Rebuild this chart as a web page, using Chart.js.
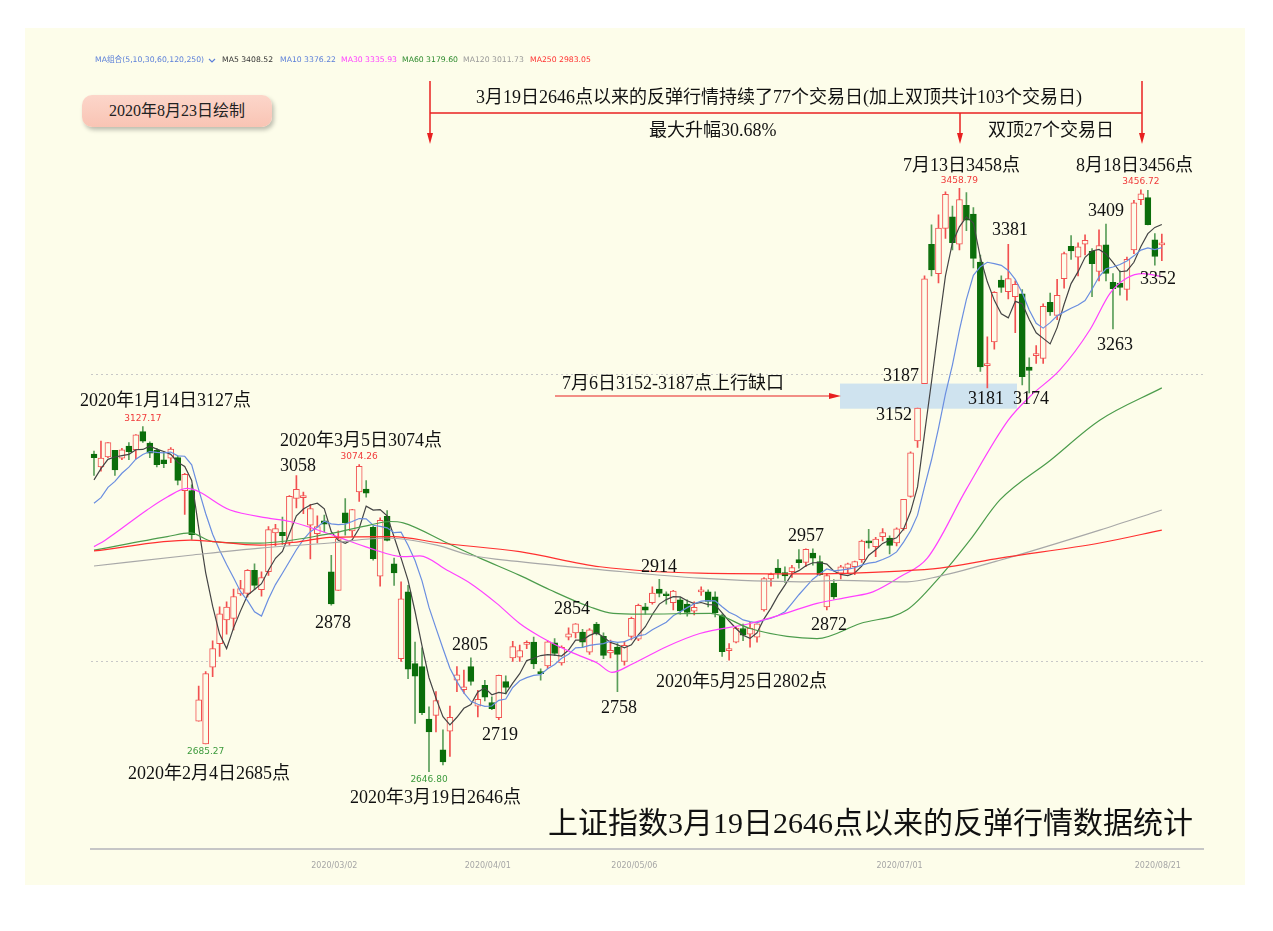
<!DOCTYPE html>
<html>
<head>
<meta charset="utf-8">
<script src="https://cdn.jsdelivr.net/npm/chart.js@4.4.1/dist/chart.umd.min.js"></script>
<style>
  html, body { margin: 0; padding: 0; background: #fff; }
  #panel { position: absolute; left: 25px; top: 28px; width: 1220px; height: 857px; background: #fdfdea; }
  #badge { position: absolute; left: 82px; top: 95px; width: 190px; height: 32px; border-radius: 10px;
           background: linear-gradient(#fcd6ca, #f9c4b4); box-shadow: 2px 3px 4px rgba(0,0,0,0.25);
           font: 16px "Liberation Serif", "Noto Sans CJK SC"; color: #222; text-align: center; line-height: 32px; }
  #wrap { position: absolute; left: 0; top: 0; width: 1273px; height: 931px; }
</style>
</head>
<body>
<div id="panel"></div>
<div id="badge">2020年8月23日绘制</div>
<div id="wrap"><canvas id="chart" width="1273" height="931"></canvas></div>
<script>
// 上证指数 日K 2020/01/03 - 2020/08/21
const dates = [
  '2020/01/03','2020/01/06','2020/01/07','2020/01/08','2020/01/09','2020/01/10','2020/01/13','2020/01/14','2020/01/15','2020/01/16','2020/01/17','2020/01/20','2020/01/21','2020/01/22','2020/01/23',
  '2020/02/03','2020/02/04','2020/02/05','2020/02/06','2020/02/07','2020/02/10','2020/02/11','2020/02/12','2020/02/13','2020/02/14','2020/02/17','2020/02/18','2020/02/19','2020/02/20','2020/02/21','2020/02/24','2020/02/25','2020/02/26','2020/02/27','2020/02/28',
  '2020/03/02','2020/03/03','2020/03/04','2020/03/05','2020/03/06','2020/03/09','2020/03/10','2020/03/11','2020/03/12','2020/03/13','2020/03/16','2020/03/17','2020/03/18','2020/03/19','2020/03/20','2020/03/23','2020/03/24','2020/03/25','2020/03/26','2020/03/27','2020/03/30','2020/03/31',
  '2020/04/01','2020/04/02','2020/04/03','2020/04/07','2020/04/08','2020/04/09','2020/04/10','2020/04/13','2020/04/14','2020/04/15','2020/04/16','2020/04/17','2020/04/20','2020/04/21','2020/04/22','2020/04/23','2020/04/24','2020/04/27','2020/04/28','2020/04/29','2020/04/30',
  '2020/05/06','2020/05/07','2020/05/08','2020/05/11','2020/05/12','2020/05/13','2020/05/14','2020/05/15','2020/05/18','2020/05/19','2020/05/20','2020/05/21','2020/05/22','2020/05/25','2020/05/26','2020/05/27','2020/05/28','2020/05/29',
  '2020/06/01','2020/06/02','2020/06/03','2020/06/04','2020/06/05','2020/06/08','2020/06/09','2020/06/10','2020/06/11','2020/06/12','2020/06/15','2020/06/16','2020/06/17','2020/06/18','2020/06/19','2020/06/22','2020/06/23','2020/06/24','2020/06/29','2020/06/30',
  '2020/07/01','2020/07/02','2020/07/03','2020/07/06','2020/07/07','2020/07/08','2020/07/09','2020/07/10','2020/07/13','2020/07/14','2020/07/15','2020/07/16','2020/07/17','2020/07/20','2020/07/21','2020/07/22','2020/07/23','2020/07/24','2020/07/27','2020/07/28','2020/07/29','2020/07/30','2020/07/31',
  '2020/08/03','2020/08/04','2020/08/05','2020/08/06','2020/08/07','2020/08/10','2020/08/11','2020/08/12','2020/08/13','2020/08/14','2020/08/17','2020/08/18','2020/08/19','2020/08/20','2020/08/21'
];

const open = [
  3089,3071,3085,3094,3083,3100,3095,3120,3104,3094,3081,3083,3084,3038,3038,
  2717,2685.27,2792,2825,2858,2860,2894,2895,2927,2900,2925,2979,2980,2966,3027,3028,2990,2978,2996,2925,
  2899,3007,2982,3036,3040,2987,2919,3002,2936,2804,2897,2797,2793,2720,2725,2677,2703,2774,2761,2793,2738,2767,
  2743,2722,2772,2805,2806,2824,2827,2786,2794,2826,2798,2834,2840,2841,2813,2852,2835,2812,2820,2800,2835,
  2831,2876,2882,2901,2894,2882,2886,2880,2870,2897,2897,2890,2864,2815,2827,2846,2838,2834,
  2872,2915,2930,2924,2925,2942,2938,2951,2939,2876,2909,2923,2930,2932,2942,2968,2960,2974,2972,2965,
  2985,3030,3107,3187,3381,3340,3403,3419,3381,3435,3423,3356,3212,3245,3331,3315,3308,3312,3210,3226,3222,3300,3282,
  3333,3378,3363,3381,3371,3343,3380,3328,3327,3318,3373,3443,3446,3387,3380
];
const high = [
  3093,3107,3105,3094,3097,3105,3116,3127.17,3106,3097,3092,3098,3086,3062,3046,
  2766,2786,2829,2876,2883,2901,2913,2928,2936,2925,2988,2991,3001,3031,3058.9,3036,3019,3003,3004,2948,
  2982,3027,3012,3074.26,3052,2989,3000,3010,2944,2911,2906,2827,2819,2737,2758,2705,2738,2793,2788,2805,2760,2774,
  2751,2781,2780,2828,2823,2829,2834,2790,2829,2832,2822,2847,2853,2845,2846,2854.5,2840,2830,2825,2828,2862,
  2880,2881,2904,2914.3,2897,2899,2889,2886,2883,2904,2900,2897,2866,2825,2848,2852,2855,2852,
  2917,2923,2942,2932,2934,2956,2957,2957,2947,2922,2914,2934,2937,2940,2969,2984,2973,2985,2975,2986,
  3026,3092,3153,3337,3408,3422,3454,3434,3458.79,3453,3432,3366,3252,3315,3337,3381,3330,3318,3223,3240,3298,3313,3332,
  3370,3393,3383,3394,3375,3401,3409,3340,3344,3363,3442,3456.72,3456,3396,3395
];
const low = [
  3059,3065,3084,3059,3081,3081,3082,3105,3084,3071,3070,3077,3046,3005,2970,
  2717,2685.27,2779,2807,2838,2844,2892,2890,2900,2891,2920,2961,2963,2962,3014,3006,2943,2965,2980,2878.5,
  2899,2976,2974,3023,3029,2941,2905,2968,2906,2800,2776,2714,2726,2646.8,2702,2656,2668,2758,2756,2767,2723,2745,
  2733,2719,2755,2800,2800,2818,2790,2774,2790,2808,2795,2830,2833,2820,2810,2837,2804,2805,2758,2795,2830,
  2829,2866,2880,2890,2880,2872,2866,2863,2865,2892,2876,2862,2807,2802,2826,2829,2820,2827,
  2870,2905,2916,2910,2917,2930,2932,2934,2920,2872,2887,2915,2922,2921,2938,2958,2946,2968,2950,2961,
  2983,3029,3098,3187,3337,3327,3389,3373,3373,3400,3348,3204,3181,3235,3314,3305,3258,3185,3174,3215,3215,3282,3276,
  3320,3360,3337,3366,3308,3330,3330,3263,3310,3303,3368,3436,3408,3352,3358
];
const close = [
  3083.79,3083.41,3104.80,3066.89,3094.88,3092.29,3115.57,3106.82,3090.04,3074.08,3075.50,3095.79,3052.14,3060.75,2976.53,
  2746.61,2783.29,2818.09,2866.51,2875.96,2890.49,2901.67,2926.90,2906.07,2917.01,2983.62,2984.97,2975.40,3030.15,3039.67,3031.23,3013.05,2987.93,2991.33,2880.30,
  2970.93,2992.90,3011.67,3071.68,3034.51,2943.29,2996.76,2968.52,2923.49,2887.43,2789.25,2779.64,2728.76,2702.13,2745.62,2660.17,2722.44,2781.59,2764.91,2772.20,2747.21,2750.30,
  2734.52,2780.64,2763.99,2820.76,2815.37,2825.90,2796.63,2783.05,2827.28,2811.17,2819.94,2838.49,2852.55,2827.01,2843.98,2838.50,2808.53,2815.49,2810.02,2822.44,2860.08,
  2878.14,2871.52,2895.34,2894.80,2891.56,2898.05,2870.34,2868.46,2875.42,2898.58,2883.74,2867.92,2813.77,2817.97,2846.55,2836.80,2846.22,2852.35,
  2915.43,2921.40,2923.37,2919.25,2930.80,2937.77,2956.11,2943.75,2920.90,2919.74,2890.03,2931.75,2935.87,2939.32,2967.63,2965.27,2970.62,2979.55,2961.52,2984.67,
  3025.98,3090.57,3152.81,3332.88,3345.34,3403.44,3450.59,3383.32,3443.29,3414.62,3361.30,3210.10,3214.13,3314.15,3320.90,3333.16,3325.11,3196.77,3205.23,3227.96,3294.55,3286.82,3310.01,
  3367.97,3371.69,3377.56,3386.46,3354.04,3379.25,3340.29,3319.27,3320.73,3360.10,3438.80,3451.09,3408.13,3363.90,3380.68
];
// 2019/12/20 - 2020/01/02 收盘, 用于前几天的MA5/MA10
const priorCloses = [3004.94, 2962.75, 2982.68, 2981.88, 3007.35, 3005.04, 3040.02, 3050.12, 3085.20];

// 长周期均线 (从图上读出: [序号, 数值])
const ma30Pts = [[0,2960],[1.6,2969],[7.6,3011],[10.5,3029],[13.3,3041],[19.5,3011],[24.8,3000],[28.1,2995],[34.5,2975],[39.5,2958],[44.3,2946],[46.7,2947],[50.6,2927],[53.9,2909],[57.7,2881],[61,2853],[63.9,2835],[68.6,2812],[72.1,2798],[74.2,2785],[77.2,2797],[82.1,2821],[86.8,2839],[94,2853],[98.7,2866],[103.6,2881],[108.3,2890],[111.6,2897],[115.5,2918],[119.4,2944],[125,3040],[131,3136],[134.1,3169],[138.4,3206],[142.7,3262],[145.6,3313],[148,3334],[150.3,3340],[153,3336]];
const ma60Pts = [[0,2955],[10.5,2974],[13.8,2979],[17,2967],[23.8,2965],[33.8,2978],[39.5,2990],[42.4,2995],[44.3,2993],[50.6,2965],[55.3,2944],[61,2920],[65.3,2900],[71.1,2876],[74.4,2867],[78.2,2866],[88.3,2867],[94,2846],[99.3,2835],[103.6,2832],[109.8,2853],[116.5,2872],[121.2,2918],[125.5,2969],[129.8,3025],[137,3080],[144.1,3136],[153,3181]];
const ma120Pts = [[0,2933],[13.8,2948],[23.8,2958],[33.8,2965],[42,2972],[49.1,2962],[53.9,2948],[61,2939],[72.5,2928],[86.8,2916],[101.2,2911],[106.9,2913],[116.5,2911],[121.2,2919],[129.8,2941],[144.1,2983],[153,3011]];
const ma250Pts = [[0,2954],[13.8,2969],[23.8,2962],[29.5,2967],[33.8,2973],[42.8,2974],[49.6,2965],[61,2953],[72.5,2932],[86.8,2923],[101.2,2922],[115.5,2926],[121.2,2930],[129.8,2944],[144.1,2965],[153,2983]];

const maNames = ['MA5', 'MA10', 'MA30', 'MA60', 'MA120', 'MA250'];
const maLatest = [3408.52, 3376.22, 3335.93, 3179.60, 3011.73, 2983.05];

const tickDates = ['2020/03/02', '2020/04/01', '2020/05/06', '2020/07/01', '2020/08/21'];
const gridValues = [2800, 3200];

const BG = '#fdfdea';
const UP = '#f25050';
const DOWN = '#0b6e0b';
const DOWN_WICK = '#5a9e5a';
const SERIF = '"Liberation Serif", "Noto Sans CJK SC"';

function movingAvg(n) {
  const all = priorCloses.concat(close);
  return close.map((c, i) => {
    const j = i + priorCloses.length;
    let s = 0;
    for (let k = j - n + 1; k <= j; k++) s += all[k];
    return s / n;
  });
}
const ma5 = movingAvg(5);
const ma10 = movingAvg(10);

const isUp = close.map((c, i) => c >= open[i]);
const tickIdx = tickDates.map(d => dates.indexOf(d));

function lineSet(pts, color, smooth) {
  return {
    type: 'line',
    data: pts,
    borderColor: color,
    borderWidth: 1.2,
    pointRadius: 0,
    cubicInterpolationMode: smooth ? 'monotone' : 'default',
    tension: 0,
    order: 0
  };
}

// 文字注释
const labels = [
  ['2020年1月14日3127点', 80, 401],
  ['2020年3月5日3074点', 280, 441],
  ['3058', 280, 466],
  ['2878', 315, 623],
  ['2020年2月4日2685点', 128, 774],
  ['2020年3月19日2646点', 350, 798],
  ['2805', 452, 645],
  ['2719', 482, 735],
  ['2854', 554, 609],
  ['2758', 601, 708],
  ['2914', 641, 567],
  ['2020年5月25日2802点', 656, 682],
  ['2957', 788, 536],
  ['2872', 811, 625],
  ['3187', 883, 376],
  ['3152', 876, 415],
  ['7月6日3152-3187点上行缺口', 562, 384],
  ['3181', 968, 399],
  ['3174', 1013, 399],
  ['3381', 992, 230],
  ['7月13日3458点', 903, 166],
  ['8月18日3456点', 1076, 166],
  ['3409', 1088, 211],
  ['3352', 1140, 279],
  ['3263', 1097, 345],
  ['3月19日2646点以来的反弹行情持续了77个交易日(加上双顶共计103个交易日)', 476, 98],
  ['最大升幅30.68%', 649, 131],
  ['双顶27个交易日', 988, 131]
];
// 高低点小标签 [文字, 序号, 数值, 颜色, 上/下]
const markLabels = [
  ['3127.17', 7, 3127.17, '#f03a3a', -1],
  ['3074.26', 38, 3074.26, '#f03a3a', -1],
  ['3458.79', 124, 3458.79, '#f03a3a', -1],
  ['3456.72', 150, 3456.72, '#f03a3a', -1],
  ['2685.27', 16, 2685.27, '#3c9a3c', 1],
  ['2646.80', 48, 2646.8, '#3c9a3c', 1]
];

function arrowDown(ctx, x, y1, y2) {
  ctx.beginPath(); ctx.moveTo(x, y1); ctx.lineTo(x, y2 - 8); ctx.stroke();
  ctx.beginPath(); ctx.moveTo(x, y2); ctx.lineTo(x - 3, y2 - 11); ctx.lineTo(x + 3, y2 - 11); ctx.closePath(); ctx.fill();
}

const gapBox = {
  id: 'gapBox',
  beforeDatasetsDraw(chart) {
    const { ctx, scales: { y } } = chart;
    const top = y.getPixelForValue(3187), bot = y.getPixelForValue(3152);
    ctx.save();
    ctx.fillStyle = '#cfe3ef';
    ctx.fillRect(840, top, 177, bot - top);
    ctx.restore();
  }
};

const notes = {
  id: 'notes',
  afterDraw(chart) {
    const { ctx, scales: { x, y } } = chart;
    ctx.save();
    // 均线图例
    ctx.textBaseline = 'middle';
    ctx.font = '7.7px "DejaVu Sans", "Noto Sans CJK SC"';
    ctx.fillStyle = '#5b7fd9';
    ctx.fillText('MA组合(5,10,30,60,120,250)', 95, 60);
    ctx.strokeStyle = '#5b7fd9'; ctx.lineWidth = 1.2;
    ctx.beginPath(); ctx.moveTo(209, 59); ctx.lineTo(212, 62); ctx.lineTo(215, 59); ctx.stroke();
    const maColors = ['#333333', '#5b7fd9', '#ff40ff', '#2e8b2e', '#999999', '#ff3030'];
    const legendX = [222, 280, 341, 402, 463, 530];
    maNames.forEach((n, k) => {
      ctx.fillStyle = maColors[k];
      ctx.fillText(n + ' ' + maLatest[k].toFixed(2), legendX[k], 60);
    });

    // 大字注释
    ctx.fillStyle = '#111';
    ctx.font = '18px ' + SERIF;
    labels.forEach(([t, lxx, ly]) => ctx.fillText(t, lxx, ly));
    ctx.font = '30px ' + SERIF;
    ctx.fillText('上证指数3月19日2646点以来的反弹行情数据统计', 548, 825);

    // 高低点数值
    ctx.font = '9px "DejaVu Sans"';
    ctx.textAlign = 'center';
    markLabels.forEach(([t, i, v, c, dir]) => {
      ctx.fillStyle = c;
      ctx.fillText(t, x.getPixelForValue(i), y.getPixelForValue(v) + dir * 8);
    });

    // 红色箭头
    ctx.strokeStyle = '#e82020'; ctx.fillStyle = '#e82020'; ctx.lineWidth = 1.5;
    ctx.beginPath(); ctx.moveTo(430, 113); ctx.lineTo(1142, 113); ctx.stroke();
    arrowDown(ctx, 430, 81, 144);
    arrowDown(ctx, 1142, 81, 144);
    arrowDown(ctx, 960, 113, 144);
    const gy = 396;
    ctx.lineWidth = 1.2;
    ctx.beginPath(); ctx.moveTo(555, gy); ctx.lineTo(832, gy); ctx.stroke();
    ctx.beginPath(); ctx.moveTo(841, gy); ctx.lineTo(829, gy - 3); ctx.lineTo(829, gy + 3); ctx.closePath(); ctx.fill();
    ctx.restore();
  }
};

const idx = close.map((c, i) => i);

new Chart(document.getElementById('chart'), {
  type: 'bar',
  data: {
    datasets: [
      {
        label: 'wick',
        data: idx.map(i => ({ x: i, y: [low[i], high[i]] })),
        backgroundColor: idx.map(i => isUp[i] ? UP : DOWN_WICK),
        barThickness: 1,
        grouped: false,
        order: 3
      },
      {
        label: 'body',
        data: idx.map(i => ({ x: i, y: [open[i], close[i]] })),
        backgroundColor: idx.map(i => isUp[i] ? BG : DOWN),
        borderColor: idx.map(i => isUp[i] ? UP : DOWN),
        borderWidth: 1,
        borderSkipped: false,
        minBarLength: 2,
        barThickness: 6,
        grouped: false,
        order: 2
      },
      lineSet(ma250Pts.map(p => ({ x: p[0], y: p[1] })), '#ff3030', true),
      lineSet(ma120Pts.map(p => ({ x: p[0], y: p[1] })), '#a8a8a8', true),
      lineSet(ma60Pts.map(p => ({ x: p[0], y: p[1] })), '#4c9c4c', true),
      lineSet(ma30Pts.map(p => ({ x: p[0], y: p[1] })), '#ff40ff', true),
      lineSet(ma10.map((v, i) => ({ x: i, y: v })), '#6a8ee0', false),
      lineSet(ma5.map((v, i) => ({ x: i, y: v })), '#444444', false)
    ]
  },
  options: {
    responsive: false,
    animation: false,
    events: [],
    layout: { padding: { left: 90.5, right: 70, top: 150, bottom: 0 } },
    plugins: { legend: { display: false }, tooltip: { enabled: false } },
    scales: {
      x: {
        type: 'linear',
        offset: false,
        min: -0.5,
        max: 158.9,
        afterBuildTicks: s => { s.ticks = tickIdx.map(v => ({ value: v })); },
        afterFit: s => { s.height = 82; },
        grid: { display: false },
        border: { color: '#c6c6c6', width: 2 },
        ticks: {
          autoSkip: false,
          maxRotation: 0,
          labelOffset: -4,
          padding: 4,
          color: '#a6a6a6',
          font: { size: 8, family: 'DejaVu Sans' },
          callback: v => dates[v]
        }
      },
      y: {
        type: 'linear',
        min: 2539,
        max: 3512.2,
        afterBuildTicks: s => { s.ticks = gridValues.map(v => ({ value: v })); },
        afterFit: s => { s.width = 0; },
        ticks: { display: false },
        grid: { color: '#c8c8c8', lineWidth: 1, drawTicks: false },
        border: { display: false, dash: [2, 3] }
      }
    }
  },
  plugins: [gapBox, notes]
});
</script>
</body>
</html>
